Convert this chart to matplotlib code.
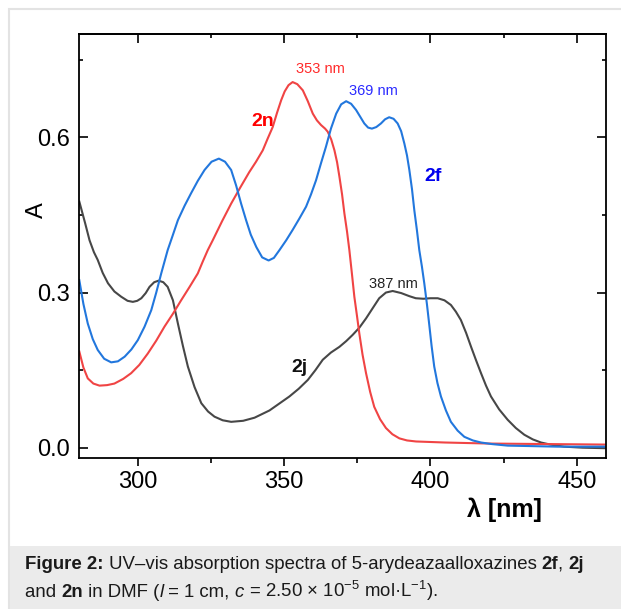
import matplotlib
matplotlib.use('Agg')
import matplotlib.pyplot as plt
from matplotlib.patches import Rectangle
from matplotlib.ticker import MultipleLocator

plt.rcParams['font.family'] = ['Liberation Sans', 'DejaVu Sans']
plt.rcParams['mathtext.fontset'] = 'custom'
plt.rcParams['mathtext.rm'] = 'Liberation Sans'
plt.rcParams['mathtext.it'] = 'Liberation Sans:italic'
plt.rcParams['mathtext.bf'] = 'Liberation Sans:bold'

# 2f (blue)
wl_2f = [280, 281.4, 282.9, 284.6, 286.3, 288.5, 290.9, 293.2, 295.5, 297.8, 300, 302.3,
         304.6, 306.3, 308, 310.2, 311.9, 313.7, 316, 318.2, 320.5, 322.8, 325.2, 327.7,
         329.8, 331.9, 333.6, 335.3, 337, 338.6, 340.5, 342.5, 344.7, 346.5, 348.4, 350.7,
         352.9, 355.2, 357.5, 359.2, 360.9, 362.6, 364.3, 366, 367.8, 369.5, 371.2, 372.9,
         374.6, 376, 377.4, 378.7, 380, 381.5, 383.1, 384.5, 385.9, 387.4, 388.8, 390,
         391.1, 392, 392.8, 393.7, 394.5, 395.4, 396.2, 397.1, 397.9, 398.8, 399.6, 400.4,
         401.3, 402.4, 403.6, 405.3, 407, 409.3, 411.6, 414.5, 417.3, 421, 426.4, 435,
         443.5, 460]
abs_2f = [0.324, 0.278, 0.240, 0.210, 0.189, 0.172, 0.165, 0.167, 0.176, 0.190, 0.208, 0.234,
          0.266, 0.300, 0.337, 0.382, 0.410, 0.440, 0.468, 0.492, 0.516, 0.537, 0.553, 0.559,
          0.553, 0.537, 0.507, 0.472, 0.440, 0.412, 0.388, 0.368, 0.362, 0.367, 0.382, 0.401,
          0.421, 0.443, 0.466, 0.490, 0.517, 0.550, 0.582, 0.617, 0.646, 0.664, 0.670, 0.665,
          0.653, 0.640, 0.627, 0.619, 0.617, 0.620, 0.627, 0.635, 0.639, 0.636, 0.627, 0.612,
          0.588, 0.565, 0.537, 0.500, 0.459, 0.420, 0.382, 0.350, 0.318, 0.278, 0.238, 0.197,
          0.157, 0.125, 0.099, 0.072, 0.050, 0.033, 0.021, 0.014, 0.010, 0.007, 0.004, 0.003,
          0.002, 0.002]

# 2j (grey)
wl_2j = [280, 281, 282, 283.5, 285, 286.3, 288, 289.8, 292, 294.3, 296.5, 298.3, 299.8,
         301.2, 302.7, 304, 305.6, 307.1, 308.7, 310.2, 312, 313.7, 315.4, 317.1, 319.4,
         321.7, 324, 326.2, 329, 331.9, 336, 339.9, 345, 351.8, 355, 358.1, 360.7, 363.2,
         366, 368.9, 371.2, 373.4, 375.7, 378, 380.3, 382.5, 384.8, 387.1, 390, 392.8, 395,
         397.6, 400, 402.5, 404.8, 407, 408.7, 410.4, 412.2, 413.9, 415.6, 417.3, 419, 420.7,
         423.5, 426.4, 429.2, 432.1, 435, 437.8, 441, 445.7, 452, 460]
abs_2j = [0.476, 0.455, 0.434, 0.401, 0.378, 0.363, 0.338, 0.318, 0.302, 0.292, 0.284, 0.282,
          0.284, 0.289, 0.299, 0.311, 0.320, 0.323, 0.320, 0.311, 0.285, 0.240, 0.197, 0.157,
          0.117, 0.086, 0.070, 0.060, 0.053, 0.050, 0.052, 0.058, 0.072, 0.099, 0.114, 0.131,
          0.150, 0.170, 0.184, 0.195, 0.206, 0.218, 0.232, 0.250, 0.270, 0.289, 0.300, 0.303,
          0.299, 0.293, 0.289, 0.288, 0.289, 0.289, 0.285, 0.276, 0.263, 0.247, 0.222, 0.195,
          0.169, 0.144, 0.120, 0.099, 0.074, 0.054, 0.038, 0.025, 0.016, 0.010, 0.006, 0.002,
          0.000, -0.001]

# 2n (red)
wl_2n = [280, 281.4, 282.9, 284.8, 286.9, 289.5, 292, 295, 297.7, 300.5, 303.4, 306.3,
         309.1, 312, 314.8, 317.7, 320.5, 322.2, 323.9, 325.6, 328.8, 331.9, 335, 338.1,
         340.4, 342.7, 344.4, 346.1, 347.6, 349, 350.2, 351.5, 352.9, 354.5, 356.4, 358.1,
         359.8, 361.2, 362.6, 364, 364.9, 366.1, 367.2, 368.1, 368.9, 369.8, 370.6, 371.5,
         372.3, 373.2, 374, 374.9, 375.7, 376.8, 378, 379.4, 380.8, 382.8, 384.8, 387,
         389.4, 392, 395.1, 405, 420, 440, 460]
abs_2n = [0.186, 0.155, 0.134, 0.124, 0.120, 0.121, 0.124, 0.133, 0.144, 0.160, 0.182, 0.207,
          0.234, 0.259, 0.285, 0.311, 0.337, 0.360, 0.382, 0.401, 0.438, 0.472, 0.503, 0.533,
          0.553, 0.575, 0.598, 0.620, 0.648, 0.672, 0.689, 0.701, 0.707, 0.703, 0.691, 0.670,
          0.646, 0.633, 0.624, 0.617, 0.611, 0.596, 0.575, 0.552, 0.524, 0.490, 0.453, 0.418,
          0.382, 0.335, 0.292, 0.255, 0.221, 0.180, 0.144, 0.108, 0.079, 0.055, 0.038, 0.026,
          0.018, 0.014, 0.012, 0.010, 0.008, 0.007, 0.006]

x_ticks = [300, 350, 400, 450]
y_ticks = [0.0, 0.3, 0.6]

fig = plt.figure(figsize=(6.21, 6.09), dpi=100)

# frame and caption panel
fig.patches.append(Rectangle((8.5 / 621, -0.1), 1.1, (609 - 8.5) / 609 + 0.1,
                             transform=fig.transFigure, fill=False,
                             edgecolor='#e3e3e3', linewidth=1.5))
fig.patches.append(Rectangle((9.5 / 621, 0), 1.0, 63 / 609, transform=fig.transFigure,
                             facecolor='#ebebeb', edgecolor='none'))

ax = fig.add_axes([0.1277, 0.2479, 0.8481, 0.6963])

ax.plot(wl_2j, abs_2j, color='#474747', lw=1.5)
ax.plot(wl_2n, abs_2n, color='#f04444', lw=1.5)
ax.plot(wl_2f, abs_2f, color='#2277dd', lw=1.5)

ax.set_xlim(280, 460)
ax.set_ylim(-0.02, 0.8)
ax.set_xticks(x_ticks)
ax.set_yticks(y_ticks)
ax.set_yticklabels(['0.0', '0.3', '0.6'])
ax.xaxis.set_minor_locator(MultipleLocator(25))
ax.yaxis.set_minor_locator(MultipleLocator(0.15))

for s in ax.spines.values():
    s.set_linewidth(1.3)

ax.tick_params(axis='x', which='major', direction='out', length=6, width=1.2,
               labelsize=17, pad=3)
ax.tick_params(axis='x', which='minor', direction='out', length=3.5, width=1.2)
ax.tick_params(axis='y', which='major', direction='in', length=6.5, width=1.2,
               labelsize=17, pad=7, right=True)
ax.tick_params(axis='y', which='minor', direction='in', length=3, width=1.2, right=True)

top = ax.secondary_xaxis('top')
top.set_xticks(x_ticks)
top.xaxis.set_minor_locator(MultipleLocator(25))
top.tick_params(which='major', direction='in', length=6.5, width=1.2, labeltop=False)
top.tick_params(which='minor', direction='in', length=3, width=1.2)
top.spines['top'].set_linewidth(1.3)

ax.set_ylabel('A', fontsize=17)
ax.yaxis.set_label_coords(-0.060, 0.585)
ax.set_xlabel('λ [nm]', fontsize=18, fontweight='bold')
ax.xaxis.set_label_coords(0.808, -0.094)

# peak labels
ax.text(354, 0.732, '353 nm', color='#ff2a2a', fontsize=10.5, va='center')
ax.text(372.3, 0.689, '369 nm', color='#2a2aff', fontsize=10.5, va='center')
ax.text(379.1, 0.317, '387 nm', color='#222222', fontsize=10.5, va='center')
ax.text(338.7, 0.630, '2n', color='#ff0000', fontsize=14, fontweight='bold', va='center')
ax.text(397.9, 0.524, '2f', color='#0000ee', fontsize=14, fontweight='bold', va='center')
ax.text(352.4, 0.155, '2j', color='#111111', fontsize=14, fontweight='bold', va='center')

# caption, written run by run so bold/italic pieces sit inline
renderer = fig.canvas.get_renderer()


def draw_runs(x, y, runs, size=13.4):
    for s, kw in runs:
        t = fig.text(x, y, s, fontsize=size, va='baseline', color='#1a1a1a', **kw)
        bb = t.get_window_extent(renderer=renderer)
        x = fig.transFigure.inverted().transform((bb.x1, bb.y0))[0]


B = {'fontweight': 'bold'}
N = {}
I = {'style': 'italic'}
draw_runs(25 / 621, (609 - 569.3) / 609,
          [('Figure 2:', B), (' UV–vis absorption spectra of 5-arydeazaalloxazines ', N),
           ('2f', B), (', ', N), ('2j', B)])
draw_runs(25 / 621, (609 - 596.7) / 609,
          [('and ', N), ('2n', B), (' in DMF (', N), ('l', I), (' = 1 cm, ', N), ('c', I),
           (r' = 2.50 × 10$^{−5}$ mol·L$^{−1}$).', N)])

fig.savefig('out.png', dpi=100)
